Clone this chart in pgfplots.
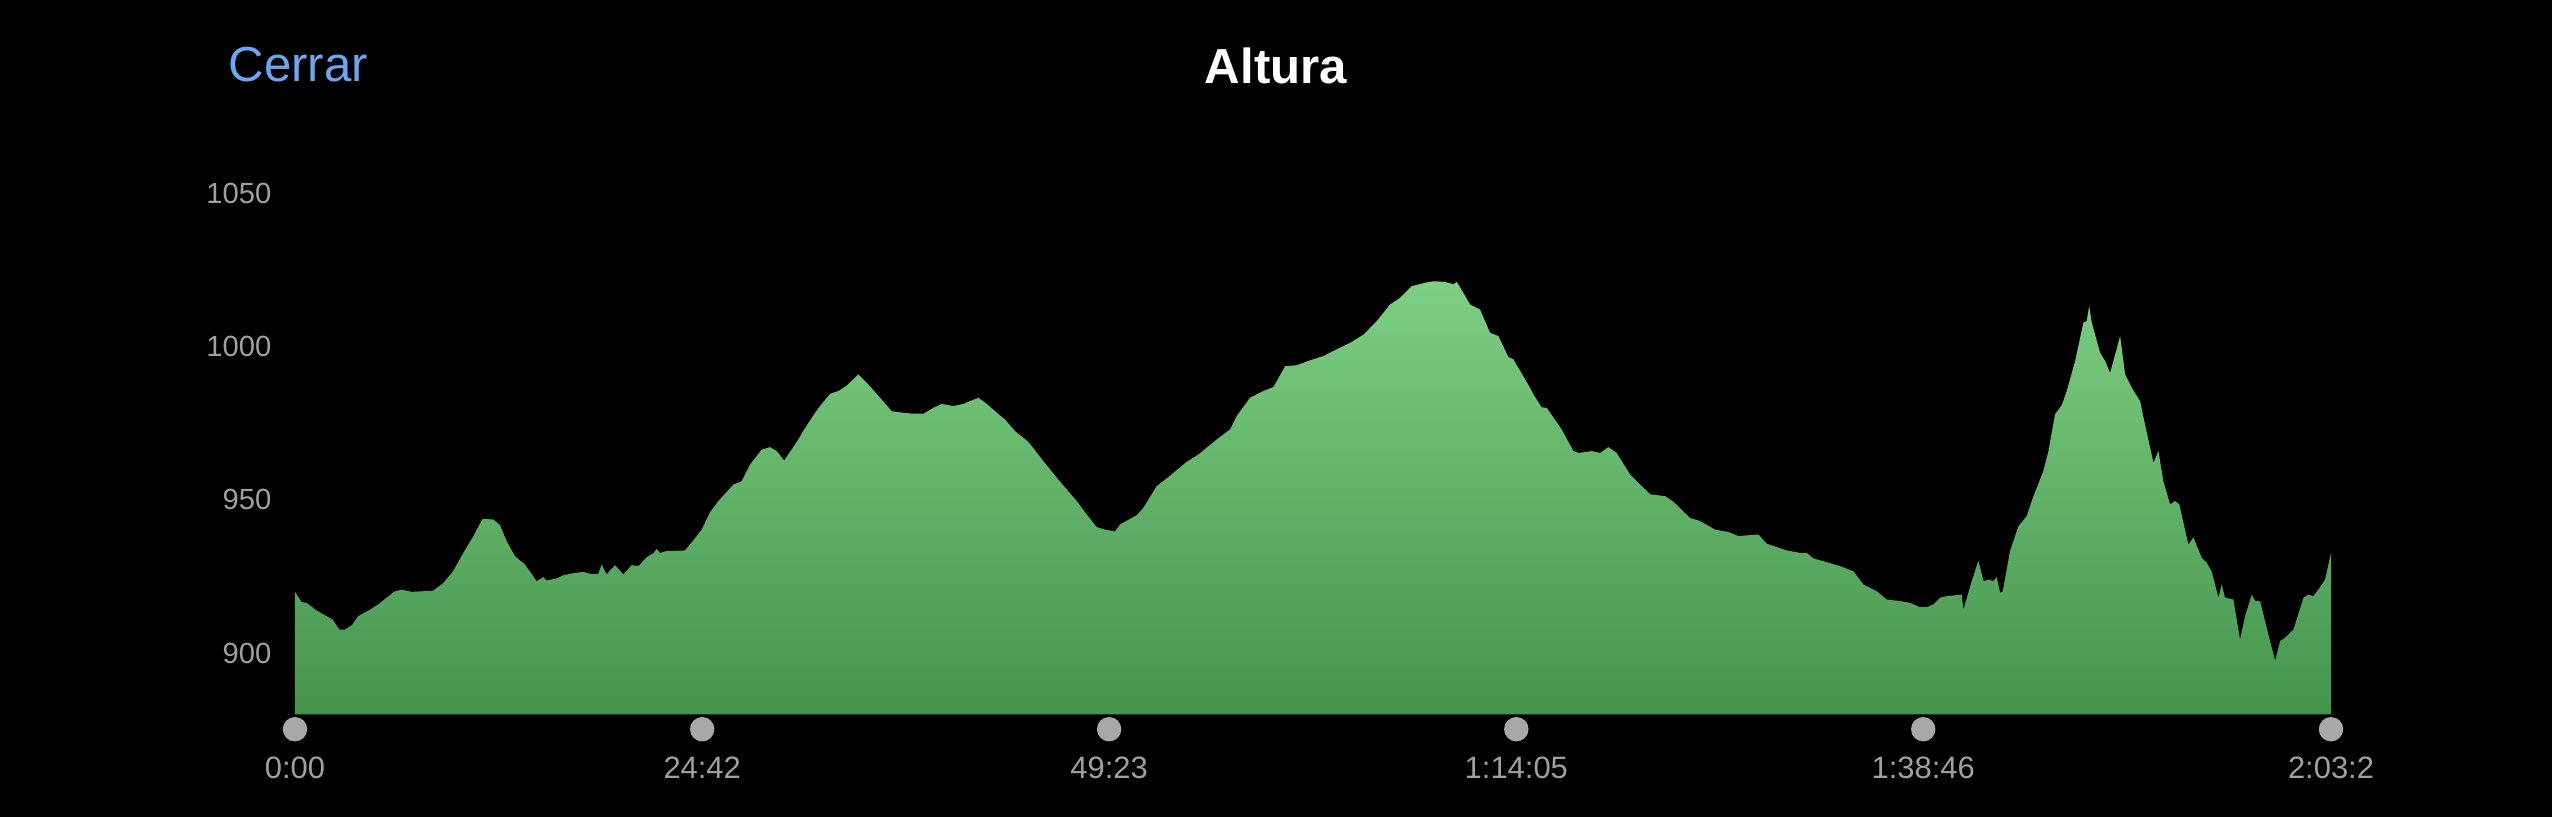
\documentclass[border=0pt]{standalone}
\usepackage{pgfplots}
\pgfplotsset{compat=1.18}
\usepackage{fontspec}
\setmainfont{Liberation Sans}
\definecolor{gtop}{RGB}{126,207,131}
\definecolor{gbot}{RGB}{68,148,76}
\definecolor{ticklab}{RGB}{160,160,160}
\definecolor{dotgray}{RGB}{168,168,168}
\definecolor{linkblue}{RGB}{110,165,240}
\begin{document}
\begin{tikzpicture}
\fill[black] (-29.5mm,-10.25mm) rectangle (225.7mm,71.45mm);
\begin{axis}[
  at={(0,0)}, anchor=south west,
  scale only axis, width=203.6mm, height=55.19mm,
  xmin=0, xmax=123.5, ymin=880, ymax=1060,
  clip=false,
  axis line style={draw=none},
  tick style={draw=none}, major tick length=0pt,
  xtick={0,24.7,49.3833,74.0833,98.7667,123.5},
  xticklabels={0:00,24:42,49:23,1:14:05,1:38:46,2:03:2},
  ytick={900,950,1000,1050},
  /pgf/number format/1000 sep={},
  /pgf/number format/assume math mode=true,
  yticklabel style={anchor=east, inner sep=0pt, xshift=-2.3mm, text=ticklab, font=\fontsize{8.3pt}{10pt}\selectfont},
  xticklabel style={anchor=north, inner sep=0pt, yshift=-4.15mm, text=ticklab, font=\fontsize{8.8pt}{10pt}\selectfont},
]
\addplot[draw=none, top color=gtop, bottom color=gbot] coordinates {
(0,880) (0,920.0) (0.40,916.7) (0.71,916.4) (1.31,913.9) (2.28,911.0) (2.69,907.7) (3.03,907.7) (3.44,909.1) (3.84,912.1)
(4.55,914.2) (5.05,915.9) (5.56,918.1) (6.07,920.2) (6.47,920.7) (7.08,920.0) (7.78,920.2) (8.39,920.4) (9.00,922.9)
(9.60,926.8) (10.21,932.7) (10.82,938.2) (11.38,943.8) (12.03,943.6) (12.43,941.8) (12.84,936.5) (13.35,931.6)
(13.95,928.9) (14.66,923.5) (15.06,924.8) (15.27,923.7) (15.87,924.4) (16.28,925.4) (16.88,926.1) (17.49,926.5)
(17.89,925.9) (18.40,925.9) (18.60,928.9) (18.90,925.7) (19.41,928.7) (19.92,925.7) (20.42,928.7) (20.83,928.4)
(21.33,931.3) (21.74,932.6) (21.94,934.0) (22.14,932.7) (22.55,933.3) (23.66,933.5) (24.16,936.8) (24.67,940.3)
(25.18,946.0) (25.68,949.6) (26.59,955.0) (27.10,956.1) (27.60,961.5) (28.31,966.4) (28.82,967.2) (29.22,965.9)
(29.67,962.8) (30.53,969.7) (30.84,972.6) (31.55,978.4) (31.95,981.3) (32.46,984.6) (32.96,985.5) (33.47,987.3)
(34.17,990.9) (34.78,987.6) (35.49,983.3) (36.20,978.9) (36.90,978.4) (37.51,978.1) (38.12,978.1) (38.72,980.0)
(39.23,981.3) (39.94,980.6) (40.54,981.3) (41.45,983.3) (41.96,981.3) (42.47,978.9) (43.07,976.2) (43.68,972.4)
(44.49,968.9) (45.40,962.6) (46.21,957.2) (46.81,953.4) (47.42,949.6) (48.03,945.2) (48.63,941.1) (49.14,940.3)
(49.74,939.7) (50.05,942.0) (51.06,945.0) (51.46,947.4) (52.27,954.5) (52.88,957.0) (54.09,962.4) (54.80,964.8)
(55.91,969.7) (56.72,973.0) (57.12,977.3) (57.93,983.3) (58.74,985.5) (59.35,986.8) (60.06,993.6) (60.76,993.9)
(61.57,995.5) (62.38,996.9) (63.19,999.1) (64.00,1001.2) (64.81,1003.9) (65.62,1008.3) (66.42,1013.7) (67.03,1015.9)
(67.74,1019.7) (68.55,1020.8) (69.05,1021.3) (69.76,1021.1) (70.27,1020.3) (70.47,1021.1) (70.87,1017.5) (71.28,1013.7)
(71.88,1012.1) (72.49,1004.5) (73.00,1003.4) (73.60,996.6) (73.91,995.8) (74.92,986.5) (75.12,984.4) (75.62,980.2)
(75.93,980.0) (76.84,972.9) (77.55,965.9) (77.85,965.3) (78.66,965.9) (79.16,965.3) (79.67,967.2) (80.17,965.3)
(80.98,958.3) (82.20,951.8) (83.11,951.2) (83.61,949.4) (84.62,944.1) (85.23,943.1) (86.14,940.3) (86.95,939.5)
(87.55,938.2) (88.77,938.7) (89.27,935.7) (90.49,933.5) (91.29,932.7) (91.70,932.7) (92.10,930.9) (92.71,930.0)
(93.72,928.4) (94.53,926.7) (95.14,922.4) (95.95,920.2) (96.55,917.5) (97.36,917.0) (97.97,916.4) (98.57,915.0)
(98.98,915.0) (99.38,915.9) (99.79,918.1) (100.19,918.6) (101.10,919.1) (101.20,914.2) (101.71,923.5) (102.11,930.2)
(102.42,923.5) (102.72,924.0) (103.02,923.5) (103.22,924.8) (103.43,919.7) (103.59,920.2) (104.03,933.3) (104.54,941.4)
(105.04,944.7) (105.45,951.2) (106.05,959.4) (106.36,965.9) (106.76,977.9) (107.17,980.9) (107.47,985.5) (107.98,995.3)
(108.48,1007.8) (108.68,1008.3) (108.83,1013.2) (108.99,1007.8) (109.49,998.0) (109.80,995.3) (110.10,991.4) (110.46,998.5)
(110.71,1003.4) (111.01,990.9) (111.41,986.6) (111.92,982.2) (112.22,974.6) (112.73,962.1) (113.03,965.9) (113.33,956.1)
(113.74,948.5) (114.04,949.6) (114.30,948.5) (114.85,935.4) (115.15,937.8) (115.66,931.1) (115.96,929.5) (116.27,926.5)
(116.67,918.1) (116.87,922.4) (117.07,918.1) (117.58,917.5) (117.98,904.5) (118.29,912.1) (118.69,919.1) (118.90,917.0)
(119.20,917.0) (119.70,906.1) (120.11,897.6) (120.41,903.9) (120.71,905.0) (121.22,907.7) (121.83,918.1) (122.13,919.1)
(122.43,918.6) (122.74,920.8) (123.14,924.0) (123.50,932.7) (123.5,880)
} -- cycle;
\addplot[only marks, mark=*, mark size=3.27pt, color=dotgray] coordinates {
(0,875.2) (24.7,875.2) (49.3833,875.2) (74.0833,875.2) (98.7667,875.2) (123.5,875.2)
};
\end{axis}
\node[anchor=center, inner sep=0pt, text=white, font=\fontsize{14pt}{16pt}\selectfont\bfseries] at (98.1mm,64.87mm) {Altura};
\node[anchor=west, inner sep=0pt, text=linkblue, font=\fontsize{14pt}{16pt}\selectfont] at (-6.7mm,64.95mm) {Cerrar};
\pgfresetboundingbox
\path[use as bounding box] (-29.5mm,-10.25mm) rectangle (225.7mm,71.45mm);
\end{tikzpicture}
\end{document}
